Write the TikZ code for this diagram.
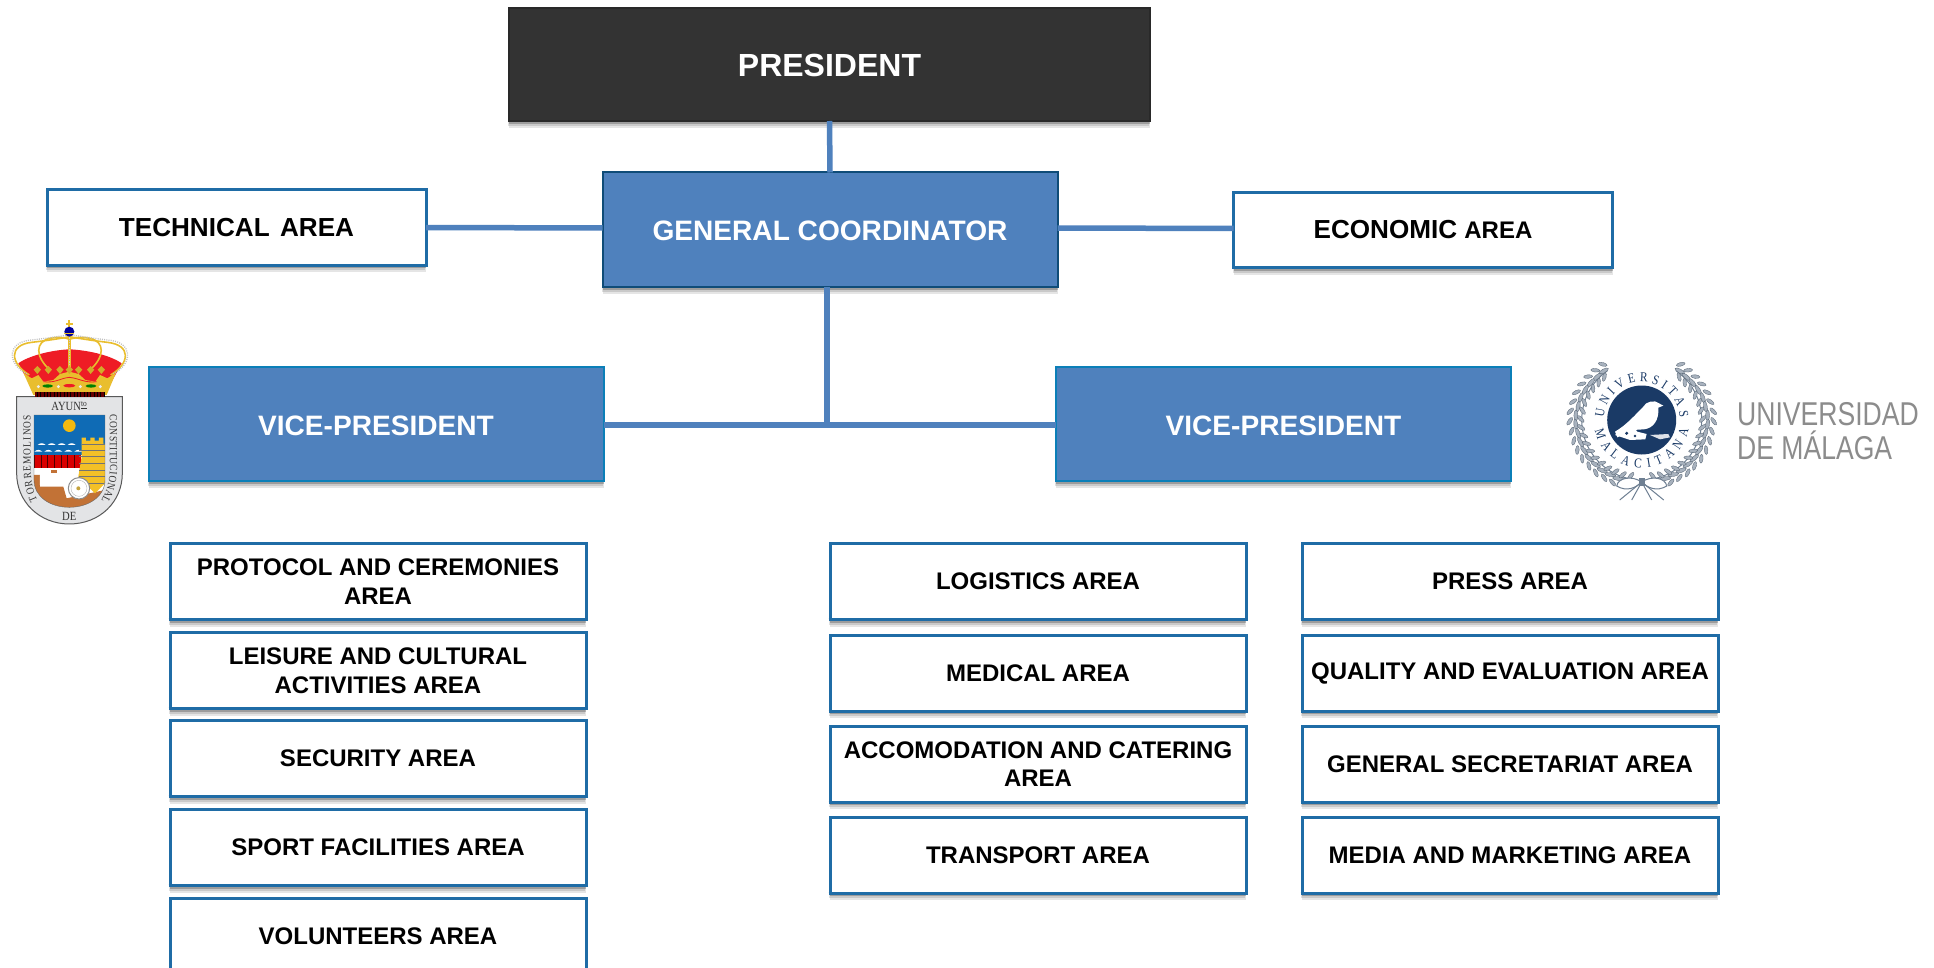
\documentclass[tikz,border=0pt]{standalone}
\usepackage{fontspec}
\setmainfont{Liberation Sans}
\newfontfamily\logoserif{Liberation Serif}[FakeStretch=0.85]
\newfontfamily\umafont{Liberation Sans}[FakeStretch=0.805]
\usetikzlibrary{shadows,decorations.text}
\definecolor{barblue}{HTML}{4F81BD}
\definecolor{edgeblue}{HTML}{1F6CA6}
\definecolor{edgedark}{HTML}{0F4C78}
\definecolor{presgray}{HTML}{333333}
\definecolor{vpedge}{HTML}{0B7FB8}
\definecolor{navyseal}{HTML}{1A3A66}
\definecolor{wreath}{HTML}{6E7F92}
\definecolor{umagray}{HTML}{8C8C8C}
\definecolor{crowngold}{HTML}{E9BE2E}
\definecolor{crownred}{HTML}{EE1C25}
\definecolor{shieldgray}{HTML}{E3E4E6}
\definecolor{skyblue}{HTML}{0F6BB5}
\definecolor{sunyellow}{HTML}{F2B90F}
\definecolor{earth}{HTML}{C27236}
\tikzset{
  softshadow/.style={
    preaction={fill=black,opacity=.10,transform canvas={xshift=0pt,yshift=-7pt}},
    preaction={fill=black,opacity=.12,transform canvas={xshift=-1pt,yshift=-5pt}},
    preaction={fill=black,opacity=.22,transform canvas={xshift=0pt,yshift=-3pt}}},
  areabox/.style={rectangle,softshadow,draw=edgeblue,line width=3pt,fill=white,
    minimum width=416pt,minimum height=76pt,inner sep=0pt,outer sep=0pt,align=center,
    text=black,font=\fontsize{24}{28.6}\selectfont\bfseries,
    append after command={\pgfextra{\draw[edgedark,line width=3pt]
      ([xshift=-1.5pt]\tikzlastnode.south west)--([xshift=1.5pt]\tikzlastnode.south east);}}},
  topbox/.style={areabox,minimum width=379pt,minimum height=75pt,
    font=\fontsize{26.1}{30}\selectfont\bfseries},
  coordbox/.style={rectangle,softshadow,draw=edgedark,line width=2pt,fill=barblue,
    inner sep=0pt,outer sep=0pt,text=white,text height=23pt,text depth=0pt,
    font=\fontsize{28.1}{32}\selectfont\bfseries},
  vpbox/.style={coordbox,draw=vpedge,minimum width=455pt,minimum height=114pt},
  link/.style={draw=barblue,line width=5.5pt},
  leafshape/.style={fill=wreath!60!white,draw=wreath!80!black,line width=.35pt},
  shieldtext/.style={decorate,decoration={text along path,text align={fit to path},
    text={|\logoserif\fontsize{11}{12}\selectfont\color{black!80}|#1}}},
  sealtext/.style={decorate,decoration={text along path,text align={fit to path},
    text={|\logoserif\fontsize{13.5}{15}\selectfont\color{navyseal}|#1}}},
}
\begin{document}
\begin{tikzpicture}[x=1pt,y=-1pt]
\clip (0,0) rectangle (1934,968);
\fill[white] (0,0) rectangle (1934,968);
% top boxes
\node[coordbox,draw=presgray!80!black,fill=presgray,minimum width=641pt,minimum height=113pt,
  text height=24pt,font=\fontsize{32}{36}\selectfont\bfseries] (pres) at (829.5,64.5) {PRESIDENT};
\node[coordbox,minimum width=455pt,minimum height=114pt] (coord) at (830,229.5) {GENERAL COORDINATOR};
\node[topbox] (tech) at (236.5,227.5) {TECHNICAL\hspace{.12em} AREA};
\node[topbox] (econ) at (1423,230) {ECONOMIC {\fontsize{24}{26}\selectfont AREA}};
\node[vpbox] (vpl) at (376,424) {VICE-PRESIDENT};
\node[vpbox] (vpr) at (1283.5,424) {VICE-PRESIDENT};
% left column
\node[areabox] (a1) at (378,581.5) {PROTOCOL AND CEREMONIES\\AREA};
\node[areabox] (a2) at (378,670.5) {LEISURE AND CULTURAL\\ACTIVITIES AREA};
\node[areabox] (a3) at (378,758.5) {SECURITY AREA};
\node[areabox] (a4) at (378,847.5) {SPORT FACILITIES AREA};
\node[areabox] (a5) at (378,936) {VOLUNTEERS AREA};
% middle column
\node[areabox] (b1) at (1038,581.5) {LOGISTICS AREA};
\node[areabox] (b2) at (1038,673) {MEDICAL AREA};
\node[areabox] (b3) at (1038,764) {ACCOMODATION AND CATERING\\AREA};
\node[areabox] (b4) at (1038,855) {TRANSPORT AREA};
% right column
\node[areabox] (c1) at (1510,581.5) {PRESS AREA};
\node[areabox] (c2) at (1510,673) {QUALITY AND EVALUATION AREA};
\node[areabox] (c3) at (1510,764) {GENERAL SECRETARIAT AREA};
\node[areabox] (c4) at (1510,855) {MEDIA AND MARKETING AREA};
% connectors
\coordinate (junction) at (827,425);
\draw[link] (pres.south) -- (coord.north);
\draw[link] (tech.east) -- ([yshift=1.5pt]coord.west);
\draw[link] ([yshift=1.5pt]coord.east) -- ([yshift=1.5pt]econ.west);
\draw[link] ([xshift=-3pt]coord.south) -- (junction);
\draw[link] ([yshift=-1pt]vpl.east) -- (junction);
\draw[link] (junction) -- ([yshift=-1pt]vpr.west);
% ---------- Torremolinos coat of arms (zoom coordinates)
\begin{scope}[shift={(0,300)},x=.3333pt,y=-.3333pt]
  % shield
  \draw[fill=shieldgray,draw=black!65,line width=1pt] (50,290) -- (367,290) -- (367,520)
     .. controls (367,605) and (300,672) .. (208,672) .. controls (118,672) and (50,605) .. (50,520) -- cycle;
  \begin{scope}
    \clip (102,345) -- (315,345) -- (315,540) .. controls (315,590) and (265,622) .. (208,622)
       .. controls (150,622) and (102,590) .. (102,540) -- cycle;
    \fill[white] (102,345) rectangle (315,625);
    \fill[skyblue] (102,345) rectangle (315,465);
    \fill[sunyellow] (208,377) circle[radius=19];
    \foreach \wx/\wy in {125/435,155/435,185/435,215/435,115/455,145/455,175/455,205/455,235/455}
      \fill[white] (\wx-12,\wy) .. controls (\wx-4,\wy-7) and (\wx+4,\wy-7) .. (\wx+12,\wy) -- cycle;
    \fill[black!70!red] (102,465) rectangle (240,505);
    \foreach \sx in {105,125,145,165,185,205,225}
      \fill[red!85!black] (\sx,465) rectangle (\sx+17,505);
    \fill[earth] (102,525) -- (120,525) -- (120,560) -- (190,560) -- (200,595) -- (315,570) -- (315,625) -- (102,625) -- cycle;
    \fill[white] (120,525) -- (150,525) -- (150,515) -- (175,515) -- (175,555) -- (120,555) -- cycle;
    \fill[earth] (152,511) rectangle (172,519);
    % tower
    \fill[sunyellow!90!white] (245,432) -- (245,413) -- (258,413) -- (258,422) -- (271,422) -- (271,413) -- (284,413) -- (284,422) -- (297,422) -- (297,413) -- (310,413) -- (310,432) -- (315,432) -- (315,550) -- (285,580) -- (235,530) -- (245,470) -- cycle;
    \foreach \by in {450,470,490,510,530,550}
      \draw[black!55,line width=.4pt] (238,\by) -- (315,\by);
    \draw[black!55,line width=.4pt] (245,432) -- (315,432);
    % wheel
    \draw[fill=white,draw=black!45,line width=1pt] (237,565) circle[radius=32];
    \draw[black!30,line width=.4pt] (237,565) circle[radius=24];
    \fill[sunyellow!60!gray] (235,565) circle[radius=6];
  \end{scope}
  \draw[black!60,line width=.4pt] (102,345) -- (315,345) -- (315,540) .. controls (315,590) and (265,622) .. (208,622)
       .. controls (150,622) and (102,590) .. (102,540) -- cycle;
  \node[font=\logoserif\fontsize{12.5}{13}\selectfont,text=black!80,inner sep=0pt] (ayun) at (208,319) {AYUN\textsuperscript{\underline{to}}};
  \node[font=\logoserif\fontsize{12.5}{13}\selectfont,text=black!80,inner sep=0pt] (deword) at (208,649) {DE};
  \path[shieldtext=TORREMOLINOS] (112,600) .. controls (100,575) and (92,540) .. (92,500) -- (92,345);
  \path[shieldtext=CONSTITUCIONAL] (330,345) -- (330,500) .. controls (330,540) and (320,575) .. (304,603);
  % crown
  \fill[crownred] (55,190) .. controls (90,165) and (160,150) .. (208,148) .. controls (260,150) and (330,165) .. (365,190)
     -- (335,245) -- (85,245) -- cycle;
  \draw[crowngold,line width=1.6pt] (88,225) .. controls (30,190) and (25,135) .. (95,127) .. controls (140,122) and (185,115) .. (208,110);
  \draw[crowngold,line width=1.6pt] (332,225) .. controls (390,190) and (395,135) .. (322,127) .. controls (280,122) and (235,115) .. (208,110);
  \draw[crowngold,line width=1.6pt] (150,210) .. controls (105,170) and (105,125) .. (150,115) .. controls (175,110) and (195,112) .. (208,118);
  \draw[crowngold,line width=1.6pt] (270,210) .. controls (315,170) and (315,125) .. (270,115) .. controls (245,110) and (225,112) .. (208,118);
  \draw[crowngold,line width=2.5pt] (208,110) -- (208,210);
  \draw[black!25,line width=1.3pt,dash pattern=on 1pt off 1.2pt] (80,222) .. controls (20,190) and (20,125) .. (95,120) .. controls (140,115) and (185,108) .. (208,104);
  \draw[black!25,line width=1.3pt,dash pattern=on 1pt off 1.2pt] (340,222) .. controls (400,190) and (400,125) .. (322,120) .. controls (280,115) and (235,108) .. (208,104);
  \draw[black!20,line width=1.5pt,dash pattern=on 1.2pt off 1.2pt] (208,112) -- (208,195);
  \fill[crowngold] (70,218) -- (95,235) -- (115,225) -- (130,245) -- (160,240) -- (180,222) -- (208,215) -- (236,222) -- (256,240) -- (286,245) -- (300,225) -- (322,235) -- (348,218) -- (320,285) -- (100,285) -- cycle;
  \foreach \lx in {112,145,180,208,236,272,304}
    \fill[crowngold!90!black] (\lx,198) -- (\lx+11,209) -- (\lx,222) -- (\lx-11,209) -- cycle;
  \draw[crownred,line width=.8pt] (130,245) .. controls (165,250) and (180,235) .. (208,232) .. controls (238,235) and (255,250) .. (290,245);
  \fill[green!50!black] (143,258) ellipse[x radius=16,y radius=5];
  \fill[green!50!black] (273,258) ellipse[x radius=16,y radius=5];
  \fill[crownred] (208,257) ellipse[x radius=18,y radius=5];
  \foreach \px in {115,175,241,301}
    \fill[white!85!gray] (\px,260) circle[radius=5];
  \fill[black!60!red] (105,277) rectangle (315,290);
  \foreach \rx in {112,122,...,312}
    \draw[black,line width=.4pt] (\rx,277) -- (\rx,290);
  % orb and cross
  \fill[crowngold] (205,60) rectangle (211,84);
  \fill[crowngold] (197,68) rectangle (219,74);
  \fill[blue!60!black] (208,95) circle[radius=15];
  \fill[crowngold] (193,98) rectangle (223,102);
\end{scope}
% ---------- Universidad de Malaga seal
\begin{scope}[shift={(1641.7,420)},x=1pt,y=1pt]
  % wreath
  \draw[wreath,line width=1pt] (125:60) arc[start angle=125,end angle=262,radius=60];
  \draw[wreath,line width=1pt] (55:60) arc[start angle=55,end angle=-82,radius=60];
  \foreach \ang/\rr/\rot in {
     128/62/30,136/62/40,144/63/50,152/64/60,160/65/70,168/65/80,176/66/90,184/66/100,192/65/110,200/65/120,208/65/130,216/65/140,224/64/150,232/64/160,240/63/170,248/63/175,256/62/185}{
    \draw[leafshape,shift={(\ang:\rr)},rotate=\rot] (0,0) ellipse[x radius=5.5,y radius=2];
    \draw[leafshape,shift={(\ang+3:\rr-5)},rotate=\rot+45] (0,0) ellipse[x radius=4.5,y radius=1.8];
    \draw[leafshape,shift={(\ang-3:\rr+6)},rotate=\rot-45] (0,0) ellipse[x radius=4.5,y radius=1.8];
    \draw[leafshape,shift={(180-\ang:\rr)},rotate=-\rot] (0,0) ellipse[x radius=5.5,y radius=2];
    \draw[leafshape,shift={(177-\ang:\rr-5)},rotate=-\rot-45] (0,0) ellipse[x radius=4.5,y radius=1.8];
    \draw[leafshape,shift={(183-\ang:\rr+6)},rotate=-\rot+45] (0,0) ellipse[x radius=4.5,y radius=1.8];
  }
  % bow
  \draw[wreath,line width=1pt,fill=white] (0,-62) .. controls (-10,-55) and (-24,-58) .. (-25,-66) .. controls (-15,-72) and (-6,-68) .. (0,-62) .. controls (6,-68) and (15,-72) .. (25,-66) .. controls (24,-58) and (10,-55) .. (0,-62) -- cycle;
  \draw[wreath,line width=1pt] (0,-62) -- (-22,-80);
  \draw[wreath,line width=1pt] (0,-62) -- (-10,-80);
  \draw[wreath,line width=1pt] (0,-62) -- (22,-80);
  \draw[wreath,line width=1pt] (0,-62) -- (10,-80);
  \fill[fill=wreath] (-3,-58) rectangle (3,-66);
  % seal disc
  \fill[navyseal] (0,0) circle[radius=34.5];
  \path[sealtext=UNIVERSITAS] (176:38) arc[start angle=176,end angle=4,radius=38];
  \path[sealtext=MALACITANA] (192:48) arc[start angle=192,end angle=348,radius=48];
\end{scope}
\begin{scope}[shift={(1500,340)},x=.3333pt,y=-.3333pt]
  % bird
  \fill[white] (345,275) .. controls (380,255) and (410,220) .. (430,200) .. controls (436,185) and (465,178) .. (477,190)
    -- (490,197) -- (475,203) .. controls (478,240) and (460,265) .. (432,268) -- (400,270) -- (352,292) -- cycle;
  \fill[white] (345,285) .. controls (370,262) and (405,262) .. (412,275) -- (440,282) -- (436,298) -- (390,300) -- cycle;
  \fill[white!85!navyseal] (450,285) -- (505,282) -- (510,292) -- (480,298) -- cycle;
  \fill[navyseal] (380,280) circle[radius=5];
  \fill[navyseal] (405,288) circle[radius=4];
\end{scope}
\node[anchor=west,text=umagray,inner sep=0pt,align=left,font=\umafont\fontsize{33}{33.6}\selectfont] (uma) at (1737,431)
  {UNIVERSIDAD\\DE MÁLAGA};
\end{tikzpicture}
\end{document}
